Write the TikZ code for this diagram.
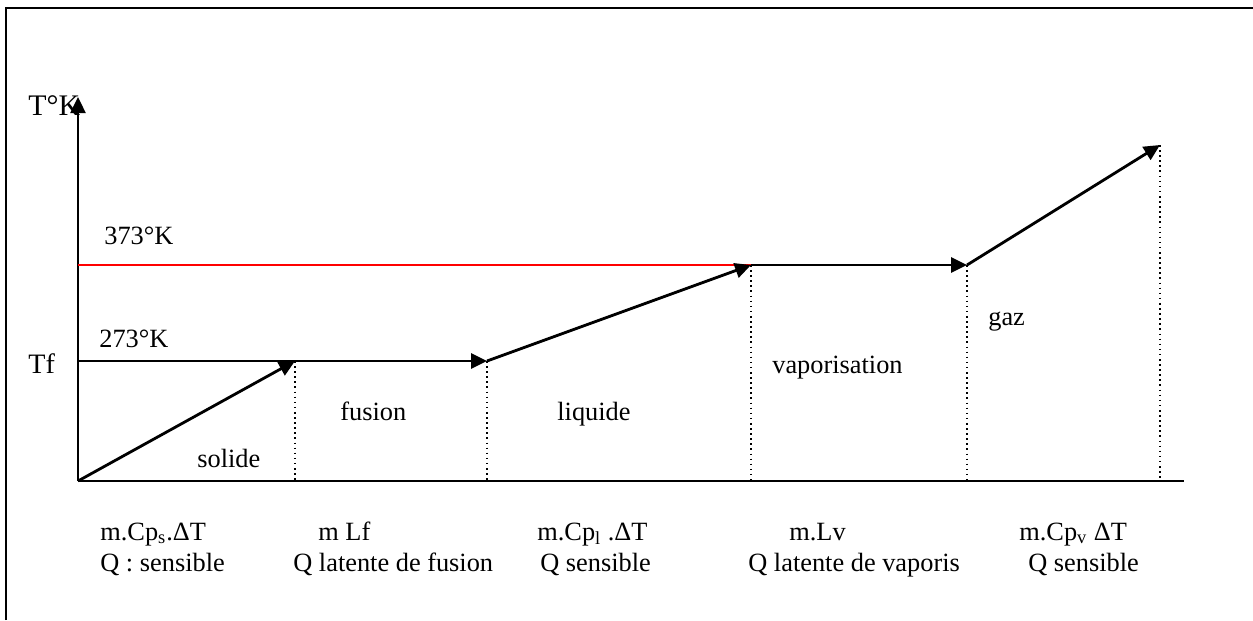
\documentclass[tikz,border=0pt]{standalone}
\usepackage{fontspec}
\setmainfont{Liberation Serif}
\usetikzlibrary{arrows.meta, positioning}

\begin{document}
\begin{tikzpicture}[x=0.02cm, y=-0.02cm,
  trans/.style={-{Triangle[length=0.32cm,width=0.3cm]}, line width=1.6pt},
  guide/.style={dotted, line width=0.9pt},
  lbl/.style={anchor=base west, inner sep=0pt, font=\fontsize{15}{18}\selectfont}]
\useasboundingbox (0,0) rectangle (1253,620);
% Frame
\draw[line width=1.3pt] (6,620) |- (1253,8);

% Axes
\coordinate (O) at (78,481);
\coordinate (ytop) at (78,97);
\coordinate (xend) at (1184,481);
\draw[-{Triangle[length=0.32cm,width=0.3cm]}, line width=1.4pt] (O) -- (ytop);
\draw[line width=1.4pt] (O) -- (xend);

% Points of the curve
\coordinate (tf) at (78,361);
\coordinate (tv) at (78,265);
\coordinate (s1) at (295,361);
\coordinate (s2) at (487,361);
\coordinate (s3) at (751,265);
\coordinate (s4) at (967,265);
\coordinate (s5) at (1160,145);

% Levels
\draw[red, line width=1.1pt] (tv) -- (s3);
\draw[line width=1.5pt] (tf) -- (s1);

% Heating curve
\draw[trans] (O) -- (s1);
\draw[trans] (s1) -- (s2);
\draw[trans] (s2) -- (s3);
\draw[trans] (s3) -- (s4);
\draw[trans] (s4) -- (s5);

% Dotted limits
\foreach \p in {s1,s2,s3,s4,s5}
  \draw[guide] (\p) -- (\p |- O);

% Axis labels
\node[lbl, font=\fontsize{17}{20}\selectfont] (tk) at (28,115) {T°K};
\node[lbl, font=\fontsize{16}{19}\selectfont] (tfl) at (28,373) {Tf};
\node[lbl] (t373) at (104,244) {373°K};
\node[lbl] (t273) at (99,347) {273°K};

% Phases
\node[lbl] (solide) at (197,467) {solide};
\node[lbl] (fusion) at (340,420) {fusion};
\node[lbl] (liquide) at (557,420) {liquide};
\node[lbl] (vapo) at (772,373) {vaporisation};
\node[lbl] (gaz) at (988,325) {gaz};

% Heats
\node[lbl] (q1a) at (100,540) {m.Cp\textsubscript{s}.ΔT};
\node[lbl] (q1b) at (100,571) {Q : sensible};
\node[lbl] (q2a) at (318,540) {m Lf};
\node[lbl] (q2b) at (293,571) {Q latente de fusion};
\node[lbl] (q3a) at (537,540) {m.Cp\textsubscript{l} .ΔT};
\node[lbl] (q3b) at (540,571) {Q sensible};
\node[lbl] (q4a) at (789,540) {m.Lv};
\node[lbl] (q4b) at (748,571) {Q latente de vaporis};
\node[lbl] (q5a) at (1019,540) {m.Cp\textsubscript{v} ΔT};
\node[lbl] (q5b) at (1028,571) {Q sensible};
\end{tikzpicture}
\end{document}
